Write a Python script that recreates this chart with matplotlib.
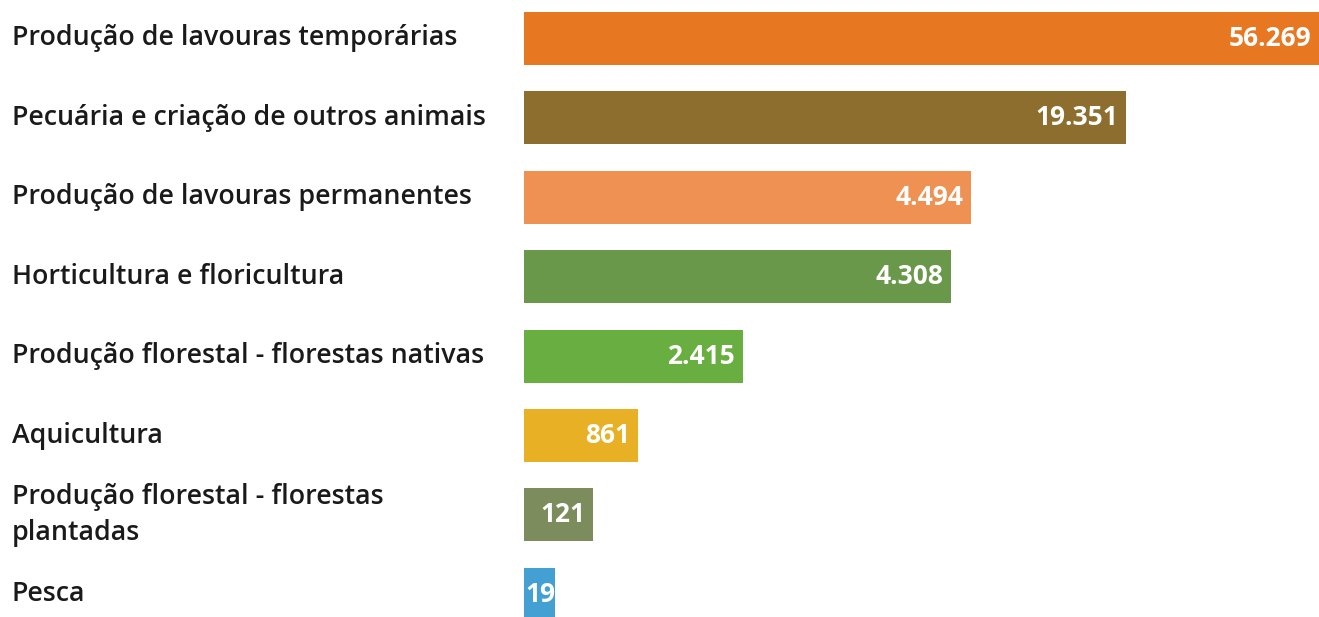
import numpy as np
import matplotlib
matplotlib.use("Agg")
import matplotlib.pyplot as plt
from matplotlib import transforms

plt.rcParams["font.family"] = ["Open Sans", "DejaVu Sans"]

categories = [
    "Produção de lavouras temporárias",
    "Pecuária e criação de outros animais",
    "Produção de lavouras permanentes",
    "Horticultura e floricultura",
    "Produção florestal - florestas nativas",
    "Aquicultura",
    "Produção florestal - florestas\nplantadas",
    "Pesca",
]
values = [56269, 19351, 4494, 4308, 2415, 861, 121, 19]
value_labels = ["56.269", "19.351", "4.494", "4.308", "2.415", "861", "121", "19"]
colors = ["#E87722", "#8E6E2E", "#EE9152", "#6A984A", "#69AE40",
          "#E8B024", "#7C8C5C", "#44A0D2"]

# the infographic does not draw bars to a linear scale: piecewise axis scale
knots_v = np.array([0, 19, 121, 861, 2415, 4308, 4494, 19351, 56269], float)
knots_d = np.array([0, 31, 69, 114, 219, 427, 447, 602, 795], float) / 795


def fwd(x):
    return np.interp(x, knots_v, knots_d)


def inv(d):
    return np.interp(d, knots_d, knots_v)


W, H = 1319, 617
fig = plt.figure(figsize=(W / 100, H / 100), dpi=100)
ax = fig.add_axes([524 / W, 0, (W - 524) / W, 1])
ax.set_xscale("function", functions=(fwd, inv))
ax.set_xlim(0, 56269)
step = 79.4
ax.set_ylim((H - 38.5) / step, -38.5 / step)
ax.axis("off")

y = np.arange(len(values))
ax.barh(y, values, height=53 / step, color=colors)

ylab = transforms.blended_transform_factory(fig.transFigure, ax.transData)
for yi, cat in zip(y, categories):
    ax.text(12 / W, yi, cat, transform=ylab, ha="left", va="center",
            fontsize=19.3, fontweight="semibold", color="#1a1a1a",
            linespacing=1.4)

for yi, v, lab in zip(y, values, value_labels):
    bar_px = fwd(v) * (W - 524)
    dx = -8 if bar_px > 50 else 0
    ax.annotate(lab, (v, yi), xytext=(dx * 0.72, 0), textcoords="offset points",
                ha="right", va="center", fontsize=19, fontweight="bold",
                color="white")

fig.savefig("out.png", dpi=100)
